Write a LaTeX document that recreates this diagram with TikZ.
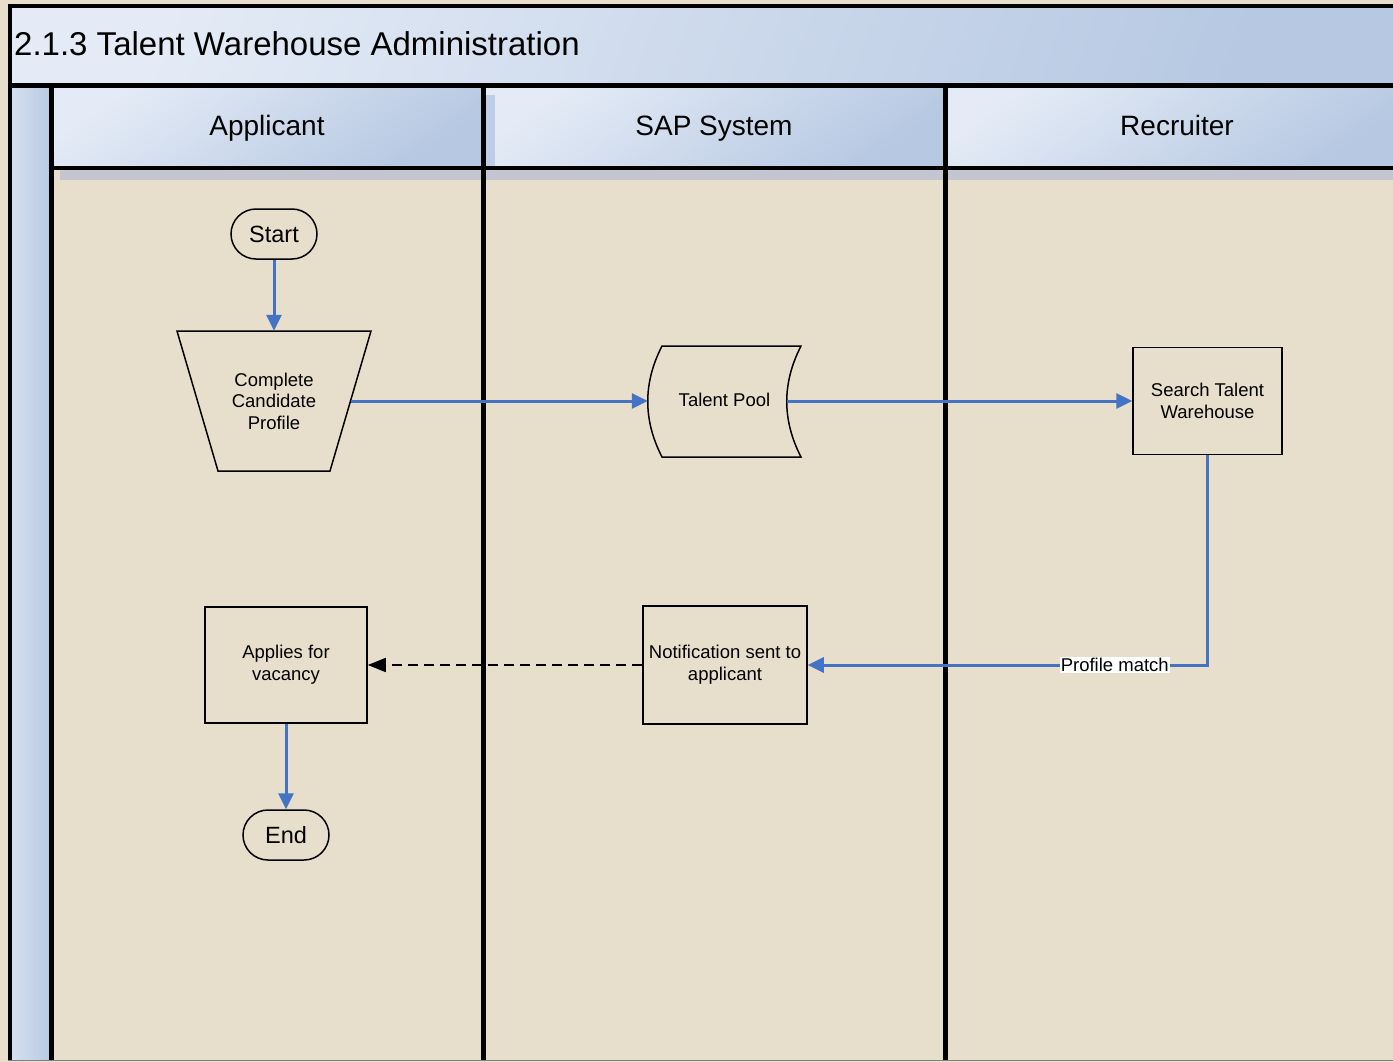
\documentclass[tikz,border=0pt]{standalone}
\usepackage{fontspec}
\setmainfont{Liberation Sans}
\usetikzlibrary{arrows.meta}
\definecolor{beige}{RGB}{232,222,204}
\definecolor{hdrlight}{RGB}{228,235,246}
\definecolor{hdrdark}{RGB}{182,200,226}
\definecolor{flowblue}{RGB}{68,114,196}
\definecolor{shadowblue}{RGB}{150,170,215}
\tikzset{
  sep/.style={line width=4.5pt, black},
  hdrshade/.style={top color=hdrlight, bottom color=hdrdark, shading angle=35},
  stepbox/.style={draw=black, line width=1.5pt, align=center, font=\fontsize{18.5}{22}\selectfont, inner sep=2pt},
  term/.style={draw=black, line width=1.5pt, rounded corners=25pt, minimum width=86pt, minimum height=50pt, font=\fontsize{23.5}{26}\selectfont, inner sep=0pt},
  flow/.style={draw=flowblue, line width=3pt, -{Triangle[length=16pt,width=15pt]}},
  msg/.style={draw=black, line width=1.6pt, dash pattern=on 10pt off 6pt, -{Triangle[length=18pt,width=14pt]}},
  lanetitle/.style={font=\fontsize{28}{30}\selectfont, anchor=base, inner sep=0pt},
}
\begin{document}
\begin{tikzpicture}[x=1pt,y=-1pt]
\useasboundingbox (0,0) rectangle (1393,1062);
\fill[beige] (0,0) rectangle (1393,1062);
% title band
\shade[top color=hdrlight, bottom color=hdrdark, shading angle=70] (10,6) rectangle (1400,85.5);
% lane headers
\shade[hdrshade] (51.7,85.5) rectangle (483.3,168);
\shade[hdrshade] (483.3,85.5) rectangle (945.5,168);
\shade[hdrshade] (945.5,85.5) rectangle (1400,168);
% left strip
\shade[left color=hdrlight!70!hdrdark, right color=hdrdark] (10,85.5) rectangle (51.7,1060);
% header shadows
\fill[shadowblue, opacity=0.45] (60,170) rectangle (1393,180);
\fill[shadowblue, opacity=0.45] (486,95) rectangle (495,170);
% frame lines
\draw[sep] (7.75,6) -- (1393,6);
\draw[sep] (10,3.75) -- (10,1060);
\draw[sep] (10,85.5) -- (1393,85.5);
\draw[sep] (51.7,168) -- (1393,168);
\draw[sep] (51.7,85.5) -- (51.7,1060);
\draw[sep] (483.3,85.5) -- (483.3,1060);
\draw[sep] (945.5,85.5) -- (945.5,1060);
\draw[gray, line width=1pt] (7.75,1060.5) -- (1393,1060.5);
% titles
\node[anchor=base west, inner sep=0pt, font=\fontsize{33}{35}\selectfont] (title) at (14,56) {2.1.3 Talent Warehouse Administration};
\node[lanetitle] (lapp) at (267,136) {Applicant};
\node[lanetitle] (lsap) at (714,136) {SAP System};
\node[lanetitle] (lrec) at (1177,136) {Recruiter};
% nodes
\node[term] (start) at (274,234) {Start};
\draw[black, line width=1.5pt] (177,331) -- (371,331) -- (330,471) -- (218,471) -- cycle;
\node[align=center, font=\fontsize{18.5}{21.5}\selectfont, minimum width=153pt, minimum height=140pt, inner sep=0pt] (profile) at (274,401) {Complete\\Candidate\\Profile};
\draw[black, line width=1.5pt] (662,346) -- (801,346) .. controls (782,383) and (782,420) .. (801,457) -- (662,457) .. controls (643,420) and (643,383) .. (662,346) -- cycle;
\node[minimum width=139pt, minimum height=110pt, inner sep=0pt] (pool) at (717.5,401) {};
\node[font=\fontsize{18.5}{22}\selectfont, inner sep=0pt] (pooltext) at (724.5,400) {Talent Pool};
\node[stepbox, minimum width=149pt, minimum height=107pt] (search) at (1207.5,401) {Search Talent\\Warehouse};
\node[stepbox, minimum width=164pt, minimum height=118pt] (notif) at (725,665) {Notification sent to\\applicant};
\node[stepbox, minimum width=162pt, minimum height=116pt] (applies) at (286,665) {Applies for\\vacancy};
\node[term] (end) at (286,835) {End};
% connectors
\draw[flow] (start) -- (profile.north);
\draw[flow] (profile.east) -- (pool.west);
\draw[flow] (pool.east) -- (search.west);
\draw[flow] (search.south) |- node[pos=0.616, fill=white, text=black, inner sep=1pt, font=\fontsize{18.5}{20}\selectfont] (pm) {Profile match} (notif.east);
\draw[msg] (notif.west) -- (applies.east);
\draw[flow] (applies.south) -- (end.north);
\end{tikzpicture}
\end{document}
